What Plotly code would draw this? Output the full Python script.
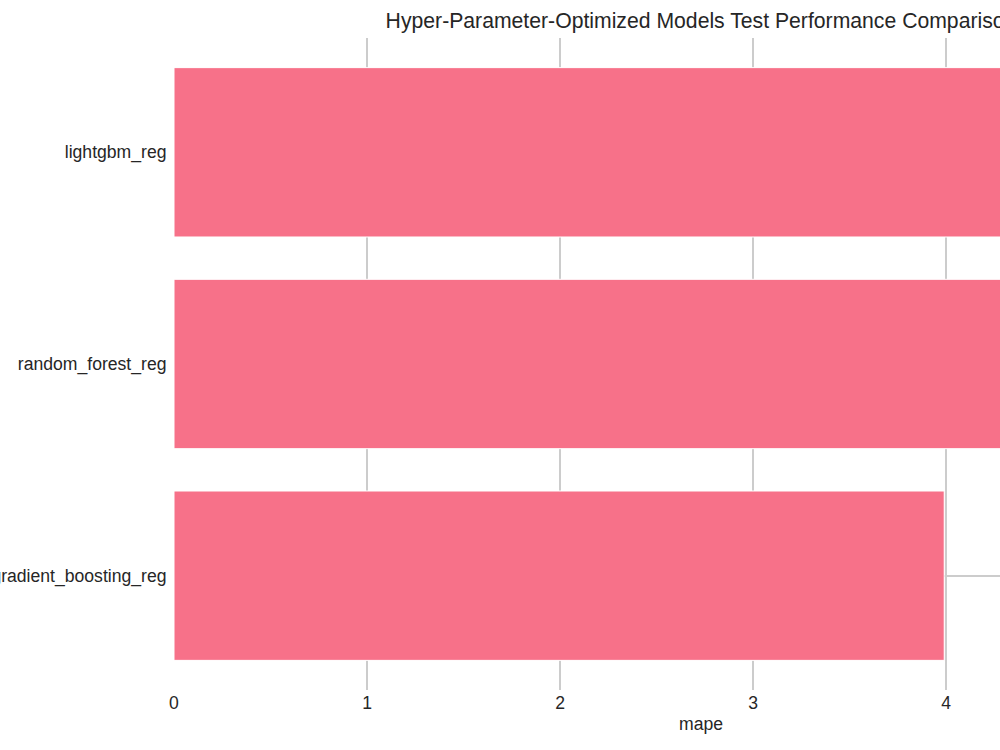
import plotly.graph_objects as go

models = ["lightgbm_reg", "random_forest_reg", "gradient_boosting_reg"]
mape = [5.20, 5.05, 3.99]

W, H = 1300, 750
left, right_edge = 174, 1228

fig = go.Figure(go.Bar(
    x=mape, y=models, orientation="h",
    marker=dict(color="#f77189", line=dict(color="white", width=1)),
))

font = "Liberation Sans, Arial, sans-serif"
fs = 17.6
fig.update_layout(
    width=W, height=H,
    paper_bgcolor="white", plot_bgcolor="white",
    margin=dict(l=left, r=W - right_edge, t=38, b=60, autoexpand=False),
    bargap=0.2,
    showlegend=False,
    font=dict(family=font, size=fs, color="#262626"),
    title=dict(text="Hyper-Parameter-Optimized Models Test Performance Comparison",
               x=701 / W, xanchor="center", xref="container",
               y=1 - 21 / H, yanchor="middle", yref="container",
               font=dict(size=21.2, color="#262626", family=font)),
    xaxis=dict(range=[0, max(mape) * 1.05], dtick=1, showgrid=True, automargin=False,
               gridcolor="#cccccc", gridwidth=1.5, zeroline=False,
               showline=False, ticks="",
               tickfont=dict(size=fs, color="#262626"),
               title=dict(text="mape", font=dict(size=fs, color="#262626"), standoff=6)),
    yaxis=dict(categoryorder="array", categoryarray=models, autorange=False, automargin=False,
               range=[2.54, -0.54], showgrid=True, gridcolor="#cccccc", gridwidth=1.5,
               zeroline=False, showline=False, ticks="outside", ticklen=3,
               tickcolor="rgba(0,0,0,0)", tickfont=dict(size=fs, color="#262626")),
)

fig.write_html("out.html", post_script="document.body.style.overflow='hidden';document.body.style.margin='0';")
